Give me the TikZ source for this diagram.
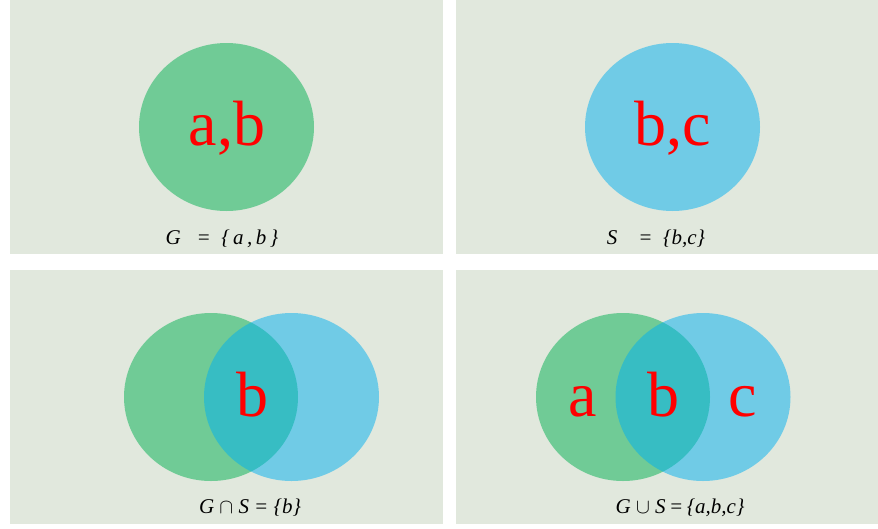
\documentclass[tikz,border=0pt]{standalone}
\usepackage{fontspec}
\setmainfont{Liberation Serif}
\definecolor{panelbg}{RGB}{225,232,221}
\definecolor{pgreen}{RGB}{0,176,80}
\definecolor{pblue}{RGB}{0,176,240}
\begin{document}
\begin{tikzpicture}[x=1pt,y=-1pt,
  panel/.style={fill=panelbg,draw=none},
  gset/.style={fill=pgreen,fill opacity=0.5,draw=none},
  sset/.style={fill=pblue,fill opacity=0.5,draw=none},
  elem/.style={text=red,font=\fontsize{64}{64}\selectfont,anchor=base,inner sep=0pt},
  setlabel/.style={font=\fontsize{21}{21}\selectfont\itshape,anchor=base,inner sep=0pt}]
\useasboundingbox (0,0) rectangle (878,528);
\fill[white] (0,0) rectangle (878,528);
% panels
\fill[panel] (10,0) rectangle (443,254);
\fill[panel] (456,0) rectangle (878,254);
\fill[panel] (10,270) rectangle (443,524);
\fill[panel] (456,270) rectangle (878,524);
% top left
\fill[gset] (226.5,127) ellipse [x radius=87.5pt, y radius=84pt];
\node[elem] (ab) at (227,145) {a,b};
\node[setlabel] (lg) at (222,244) {G\ \ \ =\ \ \{\,a\,,\,b\,\}};
% top right
\fill[sset] (672.5,127) ellipse [x radius=87.5pt, y radius=84pt];
\node[elem] (bc) at (673,145) {b,c};
\node[setlabel] (ls) at (656,244) {S\ \ \ \ =\ \ \{b,c\}};
% bottom left
\fill[gset] (211,397) ellipse [x radius=87pt, y radius=84pt];
\fill[sset] (291.5,397) ellipse [x radius=87.5pt, y radius=84pt];
\node[elem] (b1) at (252,416) {b};
\node[setlabel] (li) at (250,513) {G $\cap$ S = \{b\}};
% bottom right
\fill[gset] (623,397) ellipse [x radius=87pt, y radius=84pt];
\fill[sset] (703,397) ellipse [x radius=87.5pt, y radius=84pt];
\node[elem] (a2) at (583,416) {a};
\node[elem] (b2) at (663,416) {b};
\node[elem] (c2) at (743,416) {c};
\node[setlabel] (lu) at (680,513) {G $\cup$ S\,=\,\{a,b,c\}};
\end{tikzpicture}
\end{document}
